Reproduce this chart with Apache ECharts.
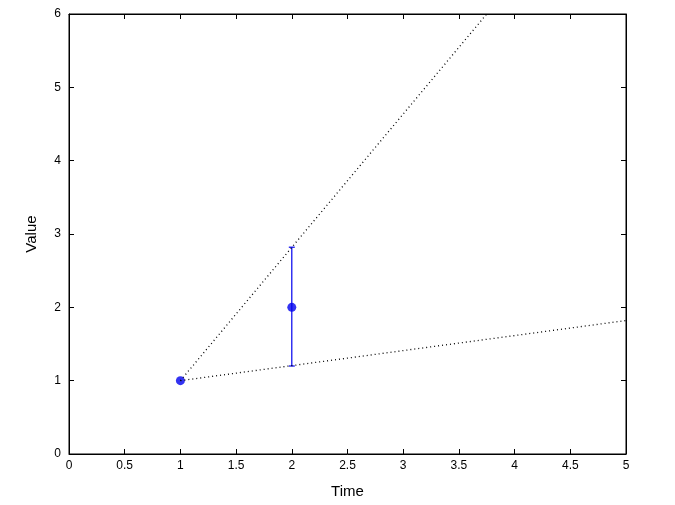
<!DOCTYPE html>
<html><head><meta charset="utf-8">
<script src="https://cdn.jsdelivr.net/npm/echarts@6/dist/echarts.min.js"></script>
<style>html,body{margin:0;padding:0;background:#fff}#c{width:675px;height:505px}</style>
</head><body><div id="c"></div>
<script>
const pointX = [1, 2];
const pointY = [1, 2];
const errLow = [1, 1.2];
const errHigh = [1, 2.82];
const upperLine = [[1, 1], [3.75, 6]];
const lowerLine = [[1, 1], [5, 1.82]];
const xTicks = [0, 0.5, 1, 1.5, 2, 2.5, 3, 3.5, 4, 4.5, 5];
const yTicks = [0, 1, 2, 3, 4, 5, 6];

const chart = echarts.init(document.getElementById('c'));
const font = 'Liberation Sans, Arial, sans-serif';
function ax(extra) {
  return Object.assign({
    type: 'value',
    axisLine: {show: true, onZero: false, lineStyle: {color: '#000', width: 1}},
    axisTick: {show: true, inside: true, length: 5, lineStyle: {color: '#000'}},
    splitLine: {show: false}
  }, extra);
}
chart.setOption({
  animation: false,
  grid: {left: 69, right: 49, top: 14, bottom: 51, show: true, borderColor: '#000', borderWidth: 1, backgroundColor: 'transparent'},
  xAxis: [
    ax({min: xTicks[0], max: xTicks[xTicks.length-1], interval: 0.5, position: 'bottom',
      name: 'Time', nameLocation: 'middle', nameGap: 30,
      nameTextStyle: {fontFamily: font, fontSize: 15, color: '#000'},
      axisLabel: {fontFamily: font, fontSize: 12, color: '#000', margin: 6}}),
    ax({position: 'top', min: 0, max: 5, interval: 0.5, axisLabel: {show: false}})
  ],
  yAxis: [
    ax({min: yTicks[0], max: yTicks[yTicks.length-1], interval: 1, position: 'left',
      name: 'Value', nameLocation: 'middle', nameGap: 30,
      nameTextStyle: {fontFamily: font, fontSize: 15, color: '#000'},
      axisLabel: {fontFamily: font, fontSize: 12, color: '#000', margin: 8}}),
    ax({position: 'right', min: 0, max: 6, interval: 1, axisLabel: {show: false}})
  ],
  series: [
    {type: 'line', data: upperLine, symbol: 'none', lineStyle: {color: '#000', width: 1.3, type: [1, 3]}},
    {type: 'line', data: lowerLine, symbol: 'none', lineStyle: {color: '#000', width: 1.3, type: [1, 3]}},
    {type: 'line', xAxisIndex: 1, yAxisIndex: 1, data: [], symbol: 'none'},
    {type: 'custom', data: pointX.map((x, i) => [x, errLow[i], errHigh[i]]),
      renderItem: function (params, api) {
        const lo = api.coord([api.value(0), api.value(1)]);
        const hi = api.coord([api.value(0), api.value(2)]);
        if (Math.abs(lo[1] - hi[1]) < 1) return {type: 'group', children: []};
        const st = {stroke: '#0000ee', lineWidth: 1.2};
        return {type: 'group', children: [
          {type: 'line', shape: {x1: lo[0], y1: lo[1], x2: hi[0], y2: hi[1]}, style: st},
          {type: 'line', shape: {x1: lo[0]-3, y1: lo[1], x2: lo[0]+3, y2: lo[1]}, style: st},
          {type: 'line', shape: {x1: hi[0]-3, y1: hi[1], x2: hi[0]+3, y2: hi[1]}, style: st}
        ]};
      }},
    {type: 'scatter', data: pointX.map((x, i) => [x, pointY[i]]), symbol: 'circle', symbolSize: 9,
      itemStyle: {color: '#0000ee'}}
  ]
});
</script></body></html>
